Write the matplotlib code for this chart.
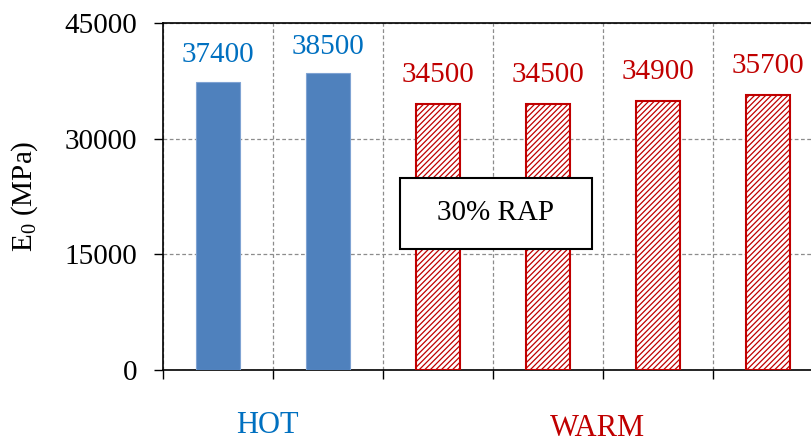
import numpy as np
import matplotlib.pyplot as plt
from matplotlib.patches import Rectangle

plt.rcParams['font.family'] = ['Liberation Serif', 'DejaVu Serif']
plt.rcParams['mathtext.fontset'] = 'custom'
plt.rcParams['mathtext.rm'] = 'Liberation Serif'
plt.rcParams['hatch.linewidth'] = 0.9

# E0 values per mix
hot_vals = [37400, 38500]
warm_vals = [34500, 34500, 34900, 35700]
yticks = [0, 15000, 30000, 45000]

blue_bar = '#4F81BD'
blue_txt = '#0070C0'
red = '#C00000'
fs = 21

fig = plt.figure(figsize=(8.12, 4.43), dpi=100)
# axes runs a bit past the right edge of the figure
ax = fig.add_axes([163 / 812, 73 / 443, 660 / 812, 347 / 443])

n_hot = len(hot_vals)
x_hot = np.arange(n_hot) + 0.5
x_warm = np.arange(len(warm_vals)) + n_hot + 0.5
w = 0.4

ax.bar(x_hot, hot_vals, width=w, color=blue_bar, edgecolor='#7FA3D3', linewidth=0.8, zorder=3)
ax.bar(x_warm, warm_vals, width=w, color='white', edgecolor=red, hatch='//////',
       linewidth=1.5, zorder=3)

for x, v in zip(x_hot, hot_vals):
    ax.annotate(str(v), (x, v), xytext=(0, 19), textcoords='offset points',
                ha='center', va='center', color=blue_txt, fontsize=fs)
for x, v in zip(x_warm, warm_vals):
    ax.annotate(str(v), (x, v), xytext=(0, 21), textcoords='offset points',
                ha='center', va='center', color=red, fontsize=fs)

ax.set_xlim(0, n_hot + len(warm_vals))
ax.set_ylim(0, 45000)
ax.set_yticks(yticks)
ax.set_yticklabels([str(t) for t in yticks], fontsize=fs)
ax.set_xticks(np.arange(0, n_hot + len(warm_vals) + 1))
ax.set_xticklabels([])
ax.tick_params(axis='y', direction='out', length=6.5, width=1, pad=12)
ax.tick_params(axis='x', direction='out', length=6.5, width=1)

ax.grid(True, linestyle=(0, (3, 2)), color='#8C8C8C', linewidth=0.9, zorder=0)
ax.set_axisbelow(True)
for s in ['left', 'bottom', 'top']:
    ax.spines[s].set_linewidth(1.2)
ax.spines['right'].set_visible(False)

ax.set_ylabel(r'$\mathregular{E_0}$ (MPa)', fontsize=fs, labelpad=18)

ax.text(0.945, -0.16, 'HOT', transform=ax.get_xaxis_transform(),
        ha='center', va='center', color=blue_txt, fontsize=22)
ax.text(3.95, -0.168, 'WARM', transform=ax.get_xaxis_transform(),
        ha='center', va='center', color=red, fontsize=22)

ax.add_patch(Rectangle((0.359, 0.349), 0.291, 0.205, transform=ax.transAxes,
                       facecolor='white', edgecolor='black', linewidth=1.5, zorder=5))
ax.text(0.359 + 0.291 / 2, 0.349 + 0.205 / 2, '30% RAP', transform=ax.transAxes,
        ha='center', va='center', fontsize=fs, zorder=6)

fig.savefig('out.png', dpi=100)
